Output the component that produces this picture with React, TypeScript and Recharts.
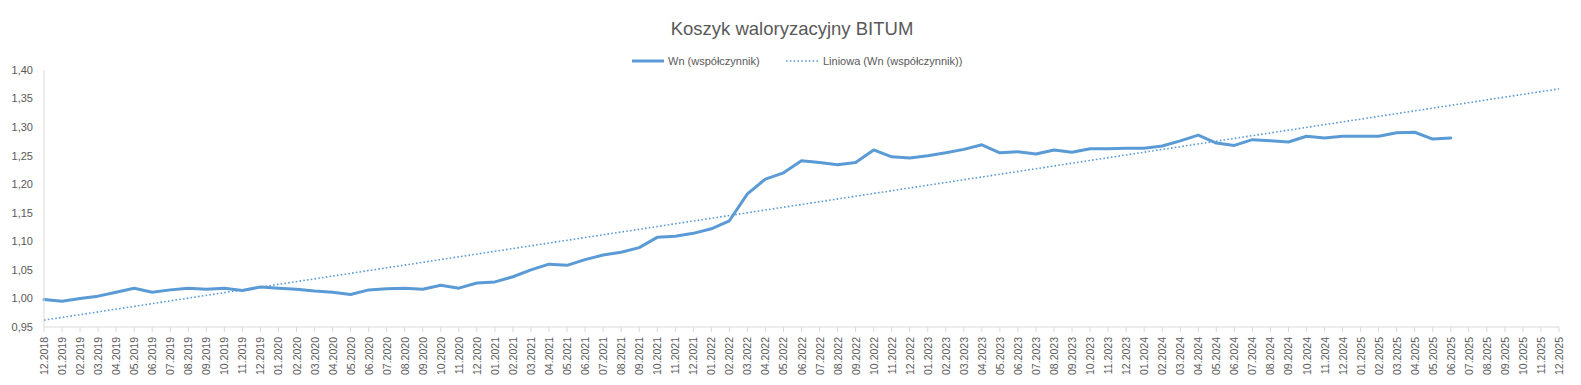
import React from 'react';
import { LineChart, Line, XAxis, YAxis } from 'recharts';

const months: string[] = [
  '12.2018',
  '01.2019', '02.2019', '03.2019', '04.2019', '05.2019', '06.2019', '07.2019', '08.2019', '09.2019', '10.2019', '11.2019', '12.2019',
  '01.2020', '02.2020', '03.2020', '04.2020', '05.2020', '06.2020', '07.2020', '08.2020', '09.2020', '10.2020', '11.2020', '12.2020',
  '01.2021', '02.2021', '03.2021', '04.2021', '05.2021', '06.2021', '07.2021', '08.2021', '09.2021', '10.2021', '11.2021', '12.2021',
  '01.2022', '02.2022', '03.2022', '04.2022', '05.2022', '06.2022', '07.2022', '08.2022', '09.2022', '10.2022', '11.2022', '12.2022',
  '01.2023', '02.2023', '03.2023', '04.2023', '05.2023', '06.2023', '07.2023', '08.2023', '09.2023', '10.2023', '11.2023', '12.2023',
  '01.2024', '02.2024', '03.2024', '04.2024', '05.2024', '06.2024', '07.2024', '08.2024', '09.2024', '10.2024', '11.2024', '12.2024',
  '01.2025', '02.2025', '03.2025', '04.2025', '05.2025', '06.2025', '07.2025', '08.2025', '09.2025', '10.2025', '11.2025', '12.2025',
];

const wnValues: number[] = [
  0.998,
  0.995, 1.000, 1.004, 1.011, 1.018, 1.011, 1.015, 1.018, 1.016, 1.018, 1.014, 1.020,
  1.018, 1.016, 1.013, 1.011, 1.007, 1.015, 1.017, 1.018, 1.016, 1.023, 1.018, 1.027,
  1.029, 1.038, 1.050, 1.060, 1.058, 1.068, 1.076, 1.081, 1.089, 1.107, 1.109, 1.114,
  1.122, 1.136, 1.183, 1.209, 1.220, 1.241, 1.238, 1.234, 1.238, 1.260, 1.248, 1.246,
  1.250, 1.255, 1.261, 1.269, 1.255, 1.257, 1.253, 1.260, 1.256, 1.262, 1.262, 1.263,
  1.263, 1.267, 1.276, 1.286, 1.272, 1.268, 1.278, 1.276, 1.274, 1.284, 1.281, 1.284,
  1.284, 1.284, 1.290, 1.291, 1.279, 1.281,
];

// Linear trend line end points
const trendStart = 0.962;
const trendEnd = 1.367;

const yTicks: number[] = [0.95, 1.0, 1.05, 1.1, 1.15, 1.2, 1.25, 1.3, 1.35, 1.4];

const TITLE = 'Koszyk waloryzacyjny BITUM';
const SERIES_NAME = 'Wn (współczynnik)';
const TREND_NAME = 'Liniowa (Wn (współczynnik))';

const BLUE = '#5B9BD5';
const TEXT = '#595959';
const AXIS = '#D9D9D9';
const FONT = '"Liberation Sans", Arial, sans-serif';

const chartData = months.map((m, i) => ({
  m,
  wn: i < wnValues.length ? wnValues[i] : null,
  trend: i === 0 ? trendStart : i === months.length - 1 ? trendEnd : null,
}));

const XTick = (props: any) => {
  const { x, y, payload } = props;
  return (
    <text
      x={x}
      y={y}
      transform={`rotate(-90 ${x} ${y})`}
      textAnchor="end"
      dominantBaseline="central"
      fontSize={10.5}
      fill={TEXT}
      fontFamily={FONT}
    >
      {payload.value}
    </text>
  );
};

export default function App() {
  return (
    <div style={{ position: 'absolute', left: 0, top: 0, width: 1581, height: 385, background: '#fff' }}>
      <LineChart
        width={1581}
        height={385}
        data={chartData}
        margin={{ top: 70, right: 22, bottom: 0, left: 0 }}
      >
        <XAxis
          dataKey="m"
          interval={0}
          height={58}
          tick={<XTick />}
          tickSize={5}
          tickMargin={5}
          tickLine={{ stroke: AXIS }}
          axisLine={{ stroke: AXIS }}
        />
        <YAxis
          width={44}
          domain={[0.95, 1.4]}
          ticks={yTicks}
          allowDataOverflow
          tickLine={false}
          tickSize={6}
          tickMargin={5}
          axisLine={{ stroke: AXIS }}
          tick={{ fill: TEXT, fontSize: 11, fontFamily: FONT }}
          tickFormatter={(v: number) => v.toFixed(2).replace('.', ',')}
        />
        <Line
          dataKey="trend"
          stroke={BLUE}
          strokeWidth={1.6}
          strokeDasharray="1.6 2.2"
          dot={false}
          activeDot={false}
          connectNulls
          isAnimationActive={false}
        />
        <Line
          dataKey="wn"
          stroke={BLUE}
          strokeWidth={3}
          strokeLinejoin="round"
          strokeLinecap="round"
          dot={false}
          activeDot={false}
          isAnimationActive={false}
        />
      </LineChart>
      <svg
        width={1581}
        height={80}
        style={{ position: 'absolute', left: 0, top: 0, pointerEvents: 'none' }}
      >
        <text x={792} y={35} textAnchor="middle" fontSize={18.5} fill={TEXT} fontFamily={FONT}>
          {TITLE}
        </text>
        <line x1={632} y1={61} x2={664} y2={61} stroke={BLUE} strokeWidth={3} />
        <text x={668} y={65} fontSize={11} fill={TEXT} fontFamily={FONT}>
          {SERIES_NAME}
        </text>
        <line x1={786} y1={61} x2={818} y2={61} stroke={BLUE} strokeWidth={1.6} strokeDasharray="1.6 2.2" />
        <text x={823} y={65} fontSize={11} fill={TEXT} fontFamily={FONT}>
          {TREND_NAME}
        </text>
      </svg>
    </div>
  );
}
